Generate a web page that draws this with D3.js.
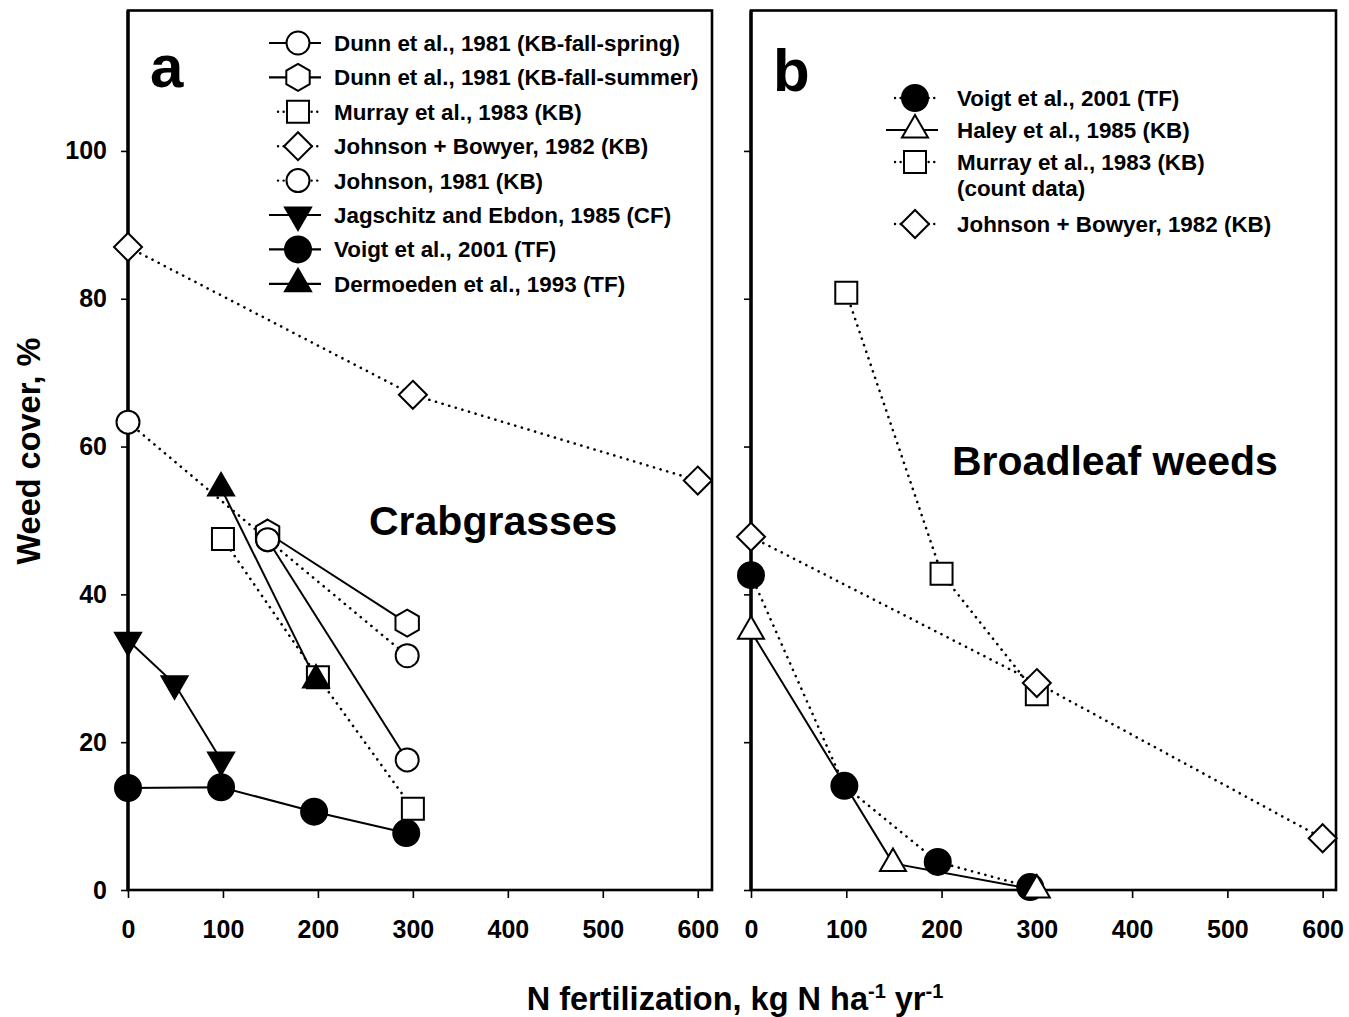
<!DOCTYPE html>
<html>
<head>
<meta charset="utf-8">
<script src="https://cdn.jsdelivr.net/npm/d3@7"></script>
<style>
body { margin: 0; background: #fff; }
svg { display: block; font-family: "Liberation Sans", Arial, sans-serif; font-weight: bold; }
</style>
</head>
<body>
<div id="chart"></div>
<script>
// ---- data ----
// panel a: crabgrasses
const dunnSpringX = [147, 294], dunnSpringY = [47.4, 17.6];
const dunnSummerX = [147, 294], dunnSummerY = [48.3, 36.1];
const murrayAX = [100, 200, 300], murrayAY = [47.5, 28.8, 11.0];
const johnsonBowyerAX = [0, 300, 600], johnsonBowyerAY = [87.0, 67.0, 55.4];
const johnsonX = [0, 147, 294], johnsonY = [63.3, 47.4, 31.7];
const jagschitzX = [0, 49, 98], jagschitzY = [33.8, 27.9, 17.6];
const voigtAX = [0, 98, 196, 293], voigtAY = [13.8, 13.9, 10.6, 7.7];
const dermoedenX = [98, 198], dermoedenY = [54.4, 28.4];

// panel b: broadleaf weeds
const voigtBX = [0, 98, 196, 293], voigtBY = [42.6, 14.1, 3.8, 0.4];
const haleyX = [0, 149, 300], haleyY = [35.0, 3.6, 0.0];
const murrayBX = [100, 200, 300], murrayBY = [80.8, 42.8, 26.5];
const johnsonBowyerBX = [0, 300, 600], johnsonBowyerBY = [47.8, 28.0, 7.0];

const legendA = [
  "Dunn et al., 1981 (KB-fall-spring)",
  "Dunn et al., 1981 (KB-fall-summer)",
  "Murray et al., 1983 (KB)",
  "Johnson + Bowyer, 1982 (KB)",
  "Johnson, 1981 (KB)",
  "Jagschitz and Ebdon, 1985 (CF)",
  "Voigt et al., 2001 (TF)",
  "Dermoeden et al., 1993 (TF)"
];
const legendB = [
  ["Voigt et al., 2001 (TF)"],
  ["Haley et al., 1985 (KB)"],
  ["Murray et al., 1983 (KB)", "(count data)"],
  ["Johnson + Bowyer, 1982 (KB)"]
];
const xTicks = [0, 100, 200, 300, 400, 500, 600];
const yTicks = [0, 20, 40, 60, 80, 100];

// ---- series tables ----
const seriesA = [
  { x: dunnSpringX, y: dunnSpringY, m: "circle", fill: "#fff", dot: false },
  { x: dunnSummerX, y: dunnSummerY, m: "hexagon", fill: "#fff", dot: false },
  { x: murrayAX, y: murrayAY, m: "square", fill: "#fff", dot: true },
  { x: johnsonBowyerAX, y: johnsonBowyerAY, m: "diamond", fill: "#fff", dot: true },
  { x: johnsonX, y: johnsonY, m: "circle", fill: "#fff", dot: true },
  { x: jagschitzX, y: jagschitzY, m: "triDown", fill: "#000", dot: false },
  { x: voigtAX, y: voigtAY, m: "circle", fill: "#000", dot: false },
  { x: dermoedenX, y: dermoedenY, m: "triUp", fill: "#000", dot: false }
];
const seriesB = [
  { x: voigtBX, y: voigtBY, m: "circle", fill: "#000", dot: true },
  { x: haleyX, y: haleyY, m: "triUp", fill: "#fff", dot: false },
  { x: murrayBX, y: murrayBY, m: "square", fill: "#fff", dot: true },
  { x: johnsonBowyerBX, y: johnsonBowyerBY, m: "diamond", fill: "#fff", dot: true }
];

function markerPath(m, fill) {
  const p = d3.path();
  if (m === "circle") {
    const r = fill === "#000" ? 13 : 11.5;
    p.arc(0, 0, r, 0, 2 * Math.PI);
  } else if (m === "square") {
    p.rect(-11, -11, 22, 22);
  } else if (m === "diamond") {
    p.moveTo(0, -14); p.lineTo(14, 0); p.lineTo(0, 14); p.lineTo(-14, 0); p.closePath();
  } else if (m === "triUp") {
    p.moveTo(0, -15); p.lineTo(13, 7.5); p.lineTo(-13, 7.5); p.closePath();
  } else if (m === "triDown") {
    p.moveTo(0, 15); p.lineTo(13, -7.5); p.lineTo(-13, -7.5); p.closePath();
  } else if (m === "hexagon") {
    for (let i = 0; i < 6; i++) {
      const a = -Math.PI / 2 + i * Math.PI / 3;
      const px = 13.5 * Math.cos(a), py = 13.5 * Math.sin(a);
      if (i === 0) p.moveTo(px, py); else p.lineTo(px, py);
    }
    p.closePath();
  }
  return p.toString();
}

const width = 1349, height = 1017;
const svg = d3.select("#chart").append("svg")
  .attr("width", width)
  .attr("height", height);

const y = d3.scaleLinear().domain([0, 119]).range([890, 10.5]);
const xA = d3.scaleLinear().domain([0, 615]).range([128, 712]);
const xB = d3.scaleLinear().domain([0, 614]).range([751, 1336]);

function drawPanel(x, series, showYLabels) {
  const g = svg.append("g");

  // frame
  g.append("rect")
    .attr("x", x.range()[0]).attr("y", y(119))
    .attr("width", x.range()[1] - x.range()[0])
    .attr("height", y(0) - y(119))
    .attr("fill", "none").attr("stroke", "#000").attr("stroke-width", 2.6);
  g.append("line")
    .attr("x1", x(0)).attr("x2", x(0)).attr("y1", y(119)).attr("y2", y(0))
    .attr("stroke", "#000").attr("stroke-width", 3.4);

  const yAxis = g.append("g")
    .attr("transform", `translate(${x(0)},0)`)
    .call(d3.axisLeft(y).tickValues(yTicks).tickSize(7).tickPadding(14)
      .tickFormat(showYLabels ? d3.format("d") : ""));
  const xAxis = g.append("g")
    .attr("transform", `translate(0,${y(0)})`)
    .call(d3.axisBottom(x).tickValues(xTicks).tickSize(8).tickPadding(22).tickFormat(d3.format("d")));
  [yAxis, xAxis].forEach(a => {
    a.select(".domain").remove();
    a.selectAll(".tick line").attr("stroke", "#000").attr("stroke-width", 1.6);
    a.selectAll("text").attr("font-size", 25).attr("font-weight", "bold")
      .attr("font-family", "'Liberation Sans', Arial, sans-serif").attr("fill", "#000");
  });

  const line = d3.line().x(d => x(d[0])).y(d => y(d[1]));
  series.forEach(s => {
    const pts = s.x.map((v, i) => [v, s.y[i]]);
    g.append("path")
      .attr("d", line(pts))
      .attr("fill", "none")
      .attr("stroke", "#000")
      .attr("stroke-width", s.dot ? 2.6 : 2)
      .attr("stroke-linecap", s.dot ? "round" : "butt")
      .attr("stroke-dasharray", s.dot ? "0.1 6.8" : null);
  });
  series.forEach(s => {
    const pts = s.x.map((v, i) => [v, s.y[i]]);
    g.selectAll(null).data(pts).enter().append("path")
      .attr("transform", d => `translate(${x(d[0])},${y(d[1])})`)
      .attr("d", markerPath(s.m, s.fill))
      .attr("fill", s.fill)
      .attr("stroke", "#000")
      .attr("stroke-width", 2);
  });
  return g;
}

const gA = drawPanel(xA, seriesA, true);
const gB = drawPanel(xB, seriesB, false);

function legendItem(g, s, cx, cy) {
  if (s.dot) {
    g.append("line").attr("x1", cx - 20).attr("x2", cx + 20).attr("y1", cy).attr("y2", cy)
      .attr("stroke", "#000").attr("stroke-width", 2.4).attr("stroke-linecap", "round")
      .attr("stroke-dasharray", "0.1 5.5");
  } else {
    g.append("line").attr("x1", cx - 29).attr("x2", cx + 23).attr("y1", cy).attr("y2", cy)
      .attr("stroke", "#000").attr("stroke-width", 2.2);
  }
  g.append("path")
    .attr("transform", `translate(${cx},${cy})`)
    .attr("d", markerPath(s.m, s.fill))
    .attr("fill", s.fill).attr("stroke", "#000").attr("stroke-width", 2);
}

// legend a
legendA.forEach((t, i) => {
  const cy = 43 + i * 34.4;
  legendItem(gA, seriesA[i], 298, cy);
  gA.append("text").attr("x", 334).attr("y", cy + 8).attr("font-size", 22.4).text(t);
});

// legend b
const legendBY = [98, 130, 162, 224];
legendB.forEach((lines, i) => {
  const cy = legendBY[i];
  legendItem(gB, seriesB[i], 915, cy);
  lines.forEach((t, j) => {
    gB.append("text").attr("x", 957).attr("y", cy + 8 + j * 26).attr("font-size", 22.4).text(t);
  });
});

// panel letters and titles
svg.append("text").attr("x", 150).attr("y", 87).attr("font-size", 60).text("a");
svg.append("text").attr("x", 773).attr("y", 91).attr("font-size", 60).text("b");
svg.append("text").attr("x", 369).attr("y", 535).attr("font-size", 41).text("Crabgrasses");
svg.append("text").attr("x", 952).attr("y", 475).attr("font-size", 41).text("Broadleaf weeds");

svg.append("text")
  .attr("transform", "translate(40,451) rotate(-90)")
  .attr("text-anchor", "middle")
  .attr("font-size", 32.5)
  .text("Weed cover, %");

const xt = svg.append("text")
  .attr("x", 735).attr("y", 1010)
  .attr("text-anchor", "middle")
  .attr("font-size", 32.5);
xt.append("tspan").text("N fertilization, kg N ha");
xt.append("tspan").attr("dy", -12).attr("font-size", 20).text("-1");
xt.append("tspan").attr("dy", 12).text(" yr");
xt.append("tspan").attr("dy", -12).attr("font-size", 20).text("-1");
</script>
</body>
</html>
